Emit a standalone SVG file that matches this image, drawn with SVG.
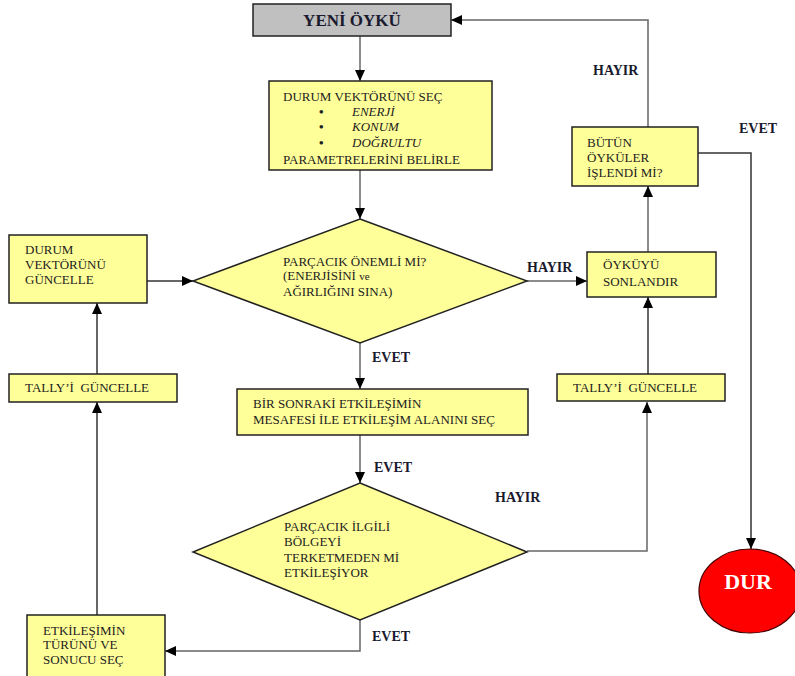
<svg xmlns="http://www.w3.org/2000/svg" width="795" height="676" viewBox="0 0 795 676">
<defs>
<marker id="ah" markerUnits="userSpaceOnUse" markerWidth="12" markerHeight="10" refX="11" refY="5" orient="auto">
<path d="M0,0 L11,5 L0,10 Z" fill="#000"/>
</marker>
<style>
.box{fill:#ffff99;stroke:#222;stroke-width:1.5}
.t{font-family:"Liberation Serif","Times New Roman",serif;font-size:13px;fill:#222}
.i{font-style:italic}
.b{font-weight:bold}
.lbl{font-family:"Liberation Serif","Times New Roman",serif;font-size:14px;font-weight:bold;fill:#1a1a2e}
.c{fill:none;stroke:#333;stroke-width:1.5}
.g{fill:none;stroke:#666;stroke-width:1.5}
</style>
</defs>
<rect width="795" height="676" fill="#fff"/>

<g id="connectors">
<line class="g" x1="360" y1="36" x2="360" y2="81" marker-end="url(#ah)"/>
<line class="g" x1="360" y1="170" x2="360" y2="219" marker-end="url(#ah)"/>
<line class="c" x1="147" y1="281" x2="193" y2="281" marker-end="url(#ah)"/>
<line class="g" x1="527" y1="281" x2="587" y2="281" marker-end="url(#ah)"/>
<line class="g" x1="360" y1="343" x2="360" y2="389" marker-end="url(#ah)"/>
<line class="g" x1="360" y1="435" x2="360" y2="483" marker-end="url(#ah)"/>
<polyline class="g" points="360,620 360,651 165,651" marker-end="url(#ah)"/>
<line class="c" x1="97" y1="615" x2="97" y2="402" marker-end="url(#ah)"/>
<line class="c" x1="97" y1="374" x2="97" y2="303" marker-end="url(#ah)"/>
<polyline class="g" points="527,551 647,551 647,402" marker-end="url(#ah)"/>
<line class="c" x1="648" y1="374" x2="648" y2="297" marker-end="url(#ah)"/>
<line class="g" x1="648" y1="252" x2="648" y2="186" marker-end="url(#ah)"/>
<polyline class="g" points="648,127 648,20 451,20" marker-end="url(#ah)"/>
<polyline class="c" points="698,153 751,153 751,549" marker-end="url(#ah)"/>
<text class="lbl" x="593" y="75">HAYIR</text>
<text class="lbl" x="739" y="133">EVET</text>
<text class="lbl" x="527" y="272">HAYIR</text>
<text class="lbl" x="372" y="362">EVET</text>
<text class="lbl" x="374" y="472">EVET</text>
<text class="lbl" x="495" y="502">HAYIR</text>
<text class="lbl" x="372" y="641">EVET</text>
</g>

<g id="yeni-oyku">
<rect x="253" y="4" width="198" height="32" fill="#c0c0c0" stroke="#222" stroke-width="1.5"/>
<text x="352" y="26" text-anchor="middle" font-family="Liberation Serif, Times New Roman, serif" font-size="17" font-weight="bold" fill="#1a1a2e">YENİ ÖYKÜ</text>
</g>

<g id="durum-sec">
<rect class="box" x="269" y="81" width="223" height="89"/>
<text class="t" x="283" y="101">DURUM VEKTÖRÜNÜ SEÇ</text>
<text class="t b" x="319" y="116">•</text>
<text class="t i" x="352" y="116">ENERJİ</text>
<text class="t b" x="319" y="131">•</text>
<text class="t i" x="352" y="131">KONUM</text>
<text class="t b" x="319" y="147">•</text>
<text class="t i" x="352" y="147">DOĞRULTU</text>
<text class="t" x="283" y="164">PARAMETRELERİNİ BELİRLE</text>
</g>

<g id="onemli">
<polygon class="box" points="360,219 527,281 360,343 193,281"/>
<text class="t" x="283" y="266">PARÇACIK ÖNEMLİ Mİ?</text>
<text class="t" x="283" y="280">(ENERJİSİNİ <tspan font-size="11">ve</tspan></text>
<text class="t" x="283" y="296">AĞIRLIĞINI SINA)</text>
</g>

<g id="durum-guncelle">
<rect class="box" x="9" y="235" width="138" height="68"/>
<text class="t" x="25" y="254">DURUM</text>
<text class="t" x="25" y="269">VEKTÖRÜNÜ</text>
<text class="t" x="25" y="284">GÜNCELLE</text>
</g>

<g id="tally-left">
<rect class="box" x="9" y="374" width="168" height="28"/>
<text class="t" x="25" y="392">TALLY’İ&#160; GÜNCELLE</text>
</g>

<g id="etkilesim-turu">
<rect class="box" x="27" y="615" width="138" height="70"/>
<text class="t" x="43" y="635">ETKİLEŞİMİN</text>
<text class="t" x="43" y="649">TÜRÜNÜ VE</text>
<text class="t" x="43" y="664">SONUCU SEÇ</text>
</g>

<g id="bir-sonraki">
<rect class="box" x="237" y="389" width="291" height="46"/>
<text class="t" x="253" y="408">BİR SONRAKİ ETKİLEŞİMİN</text>
<text class="t" x="253" y="424">MESAFESİ İLE ETKİLEŞİM ALANINI SEÇ</text>
</g>

<g id="bolge">
<polygon class="box" points="360,483 527,552 360,620 193,552"/>
<text class="t" x="284" y="531">PARÇACIK İLGİLİ</text>
<text class="t" x="284" y="546">BÖLGEYİ</text>
<text class="t" x="284" y="562">TERKETMEDEN Mİ</text>
<text class="t" x="284" y="577">ETKİLEŞİYOR</text>
</g>

<g id="tally-right">
<rect class="box" x="557" y="374" width="168" height="27"/>
<text class="t" x="573" y="392">TALLY’İ&#160; GÜNCELLE</text>
</g>

<g id="sonlandir">
<rect class="box" x="587" y="252" width="129" height="45"/>
<text class="t" x="603" y="269">ÖYKÜYÜ</text>
<text class="t" x="603" y="286">SONLANDIR</text>
</g>

<g id="butun">
<rect class="box" x="572" y="127" width="126" height="59"/>
<text class="t" x="587" y="147">BÜTÜN</text>
<text class="t" x="587" y="162">ÖYKÜLER</text>
<text class="t" x="587" y="177">İŞLENDİ Mİ?</text>
</g>

<g id="dur">
<ellipse cx="750" cy="591" rx="51" ry="42" fill="#ff0000" stroke="#400" stroke-width="1.2"/>
<text x="748" y="589" text-anchor="middle" font-family="Liberation Serif, Times New Roman, serif" font-size="22" font-weight="bold" fill="#fff">DUR</text>
</g>
</svg>
